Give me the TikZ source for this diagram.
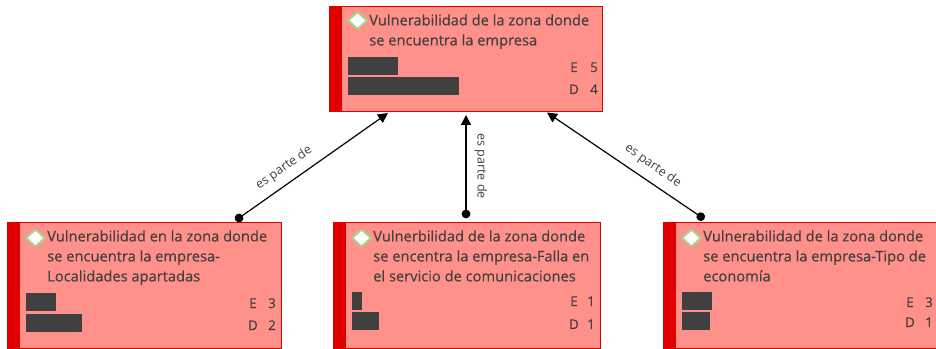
\documentclass[tikz,border=0pt]{standalone}
\usepackage{fontspec}
\setmainfont{Open Sans}
\newfontfamily\titlefont[FakeBold=0.25]{Open Sans}
\usetikzlibrary{arrows.meta,positioning}
\definecolor{boxfill}{HTML}{FF918A}
\definecolor{boxred}{HTML}{E00000}
\definecolor{ink}{HTML}{404040}
\definecolor{diam}{HTML}{A9D18E}
\tikzset{
  card/.style={draw=boxred,fill=boxfill,line width=1pt,minimum width=#1*0.75pt,inner sep=0pt,anchor=north west},
  stripe/.style={fill=boxred,draw=none,inner sep=0pt,anchor=north west,minimum width=9.75pt},
  bar/.style={fill=ink,draw=none,inner sep=0pt,anchor=north west,minimum height=#1*0.75pt},
  title/.style={text=ink,font=\titlefont\fontsize{11}{15}\selectfont,anchor=north west,align=left,inner sep=0pt},
  val/.style={text=ink,font=\titlefont\fontsize{10}{12}\selectfont,anchor=base,inner sep=0pt},
  lnk/.style={text=ink,font=\fontsize{9.4}{11}\selectfont,inner sep=0pt},
  conn/.style={draw=black,line width=0.9pt,{Circle[length=6.5pt]}-{Triangle[length=7.5pt,width=7.5pt]}},
  diamondmark/.style={fill=white,draw=diam,line width=1.5pt,line join=round}
}
\newcommand{\card}[8]{%
 % name,x,y,w,h,text,diamond y offset,title y offset
 \node[card=#4,minimum height=#5*0.75pt] (#1) at (#2,#3) {};
 \node[stripe,minimum height=#5*0.75pt] (#1s) at (#2,#3) {};
 \draw[diamondmark] (#2+28.5,#3+#7-8.5) -- (#2+38,#3+#7) -- (#2+28.5,#3+#7+8.5) -- (#2+19,#3+#7) -- cycle;
 \node[title] (#1t) at (#2+40,#3+#8) {#6};
 }
\begin{document}
\begin{tikzpicture}[x=0.75pt,y=-0.75pt]
\useasboundingbox (0,0) rectangle (936,349);
% top card
\card{top}{329}{6}{273}{105}{Vulnerabilidad de la zona donde\\se encuentra la empresa}{14.5}{8}
\node[bar=18,minimum width=37.5pt] (topa) at (348,57) {};
\node[bar=18,minimum width=83.25pt] (topb) at (348,77) {};
\node[val] (tope) at (574,72) {E}; \node[val] (topev) at (594,72) {5};
\node[val] (topd) at (574,94) {D}; \node[val] (topdv) at (594,94) {4};
% left card
\card{la}{7}{222}{274}{126}{Vulnerabilidad en la zona donde\\se encuentra la empresa-\\Localidades apartadas}{16}{8}
\node[bar=18,minimum width=22.5pt] (laa) at (26,293) {};
\node[bar=18,minimum width=41.75pt] (lab) at (26,314) {};
\node[val] (lae) at (253,308) {E}; \node[val] (laev) at (272,308) {3};
\node[val] (lad) at (253,330) {D}; \node[val] (ladv) at (272,330) {2};
% middle card
\card{mi}{333}{222}{267}{126}{Vulnerbilidad de la zona donde\\se encentra la empresa-Falla en\\el servicio de comunicaciones}{16}{8}
\node[bar=18,minimum width=7.5pt] (mia) at (352,292) {};
\node[bar=18,minimum width=20.25pt] (mib) at (352,312) {};
\node[val] (mie) at (574,306) {E}; \node[val] (miev) at (591,306) {1};
\node[val] (mid) at (574,329) {D}; \node[val] (midv) at (591,329) {1};
% right card
\card{ri}{663}{222}{273}{126}{Vulnerabilidad de la zona donde\\se encuentra la empresa-Tipo de\\economía}{16}{8}
\node[bar=18,minimum width=22.5pt] (ria) at (682,292) {};
\node[bar=18,minimum width=20.75pt] (rib) at (682,312) {};
\node[val] (rie) at (910,307) {E}; \node[val] (riev) at (929,307) {3};
\node[val] (rid) at (910,327) {D}; \node[val] (ridv) at (929,327) {1};
% connector ends
\coordinate (c1a) at (235.5,220.5); \coordinate (c1b) at (388,113);
\coordinate (c2a) at (466,218.3); \coordinate (c2b) at (466,115);
\coordinate (c3a) at (704.3,219.1); \coordinate (c3b) at (547,112.5);
\draw[conn] (c1a) -- (c1b);
\draw[conn] (c2a) -- (c2b);
\draw[conn] (c3a) -- (c3b);
\node[lnk,rotate=35] (l1) at (284,168) {es parte de};
\node[lnk,rotate=-90] (l2) at (481,166) {es parte de};
\node[lnk,rotate=-35] (l3) at (653,166) {es parte de};
\end{tikzpicture}
\end{document}
